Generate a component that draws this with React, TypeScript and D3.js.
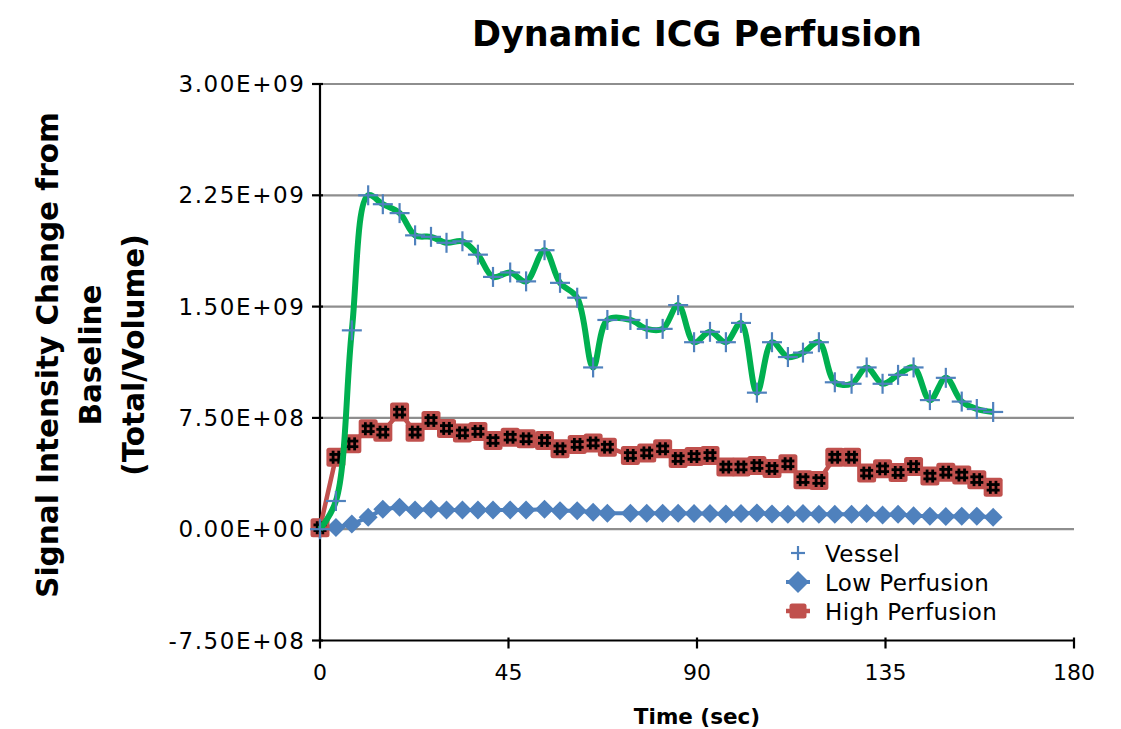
import React from "react";
import * as d3 from "d3";

const times = [
  0, 3.8, 7.6, 11.5, 15.0, 19.0, 22.7, 26.5, 30.2, 34.0, 37.7, 41.3, 45.4, 49.2,
  53.6, 57.3, 61.4, 65.2, 68.6, 74.1, 78.0, 81.8, 85.5, 89.3, 93.1, 96.9, 100.5,
  104.3, 107.9, 111.7, 115.3, 119.1, 122.9, 126.9, 130.5, 134.3, 138.0, 141.7,
  145.6, 149.4, 153.2, 156.8, 160.7,
];

// values in units of 1E9
const vessel = [
  0, 0.19, 1.34, 2.25, 2.19, 2.13, 1.98, 1.97, 1.93, 1.94, 1.85, 1.7, 1.73, 1.67,
  1.88, 1.66, 1.56, 1.09, 1.41, 1.41, 1.35, 1.35, 1.51, 1.26, 1.33, 1.26, 1.39,
  0.92, 1.26, 1.16, 1.19, 1.26, 0.99, 0.98, 1.09, 0.98, 1.04, 1.09, 0.87, 1.02,
  0.86, 0.81, 0.79,
];

const lowPerfusion = [
  0, 0.012, 0.035, 0.08, 0.135, 0.148, 0.13, 0.135, 0.13, 0.13, 0.13, 0.13, 0.13,
  0.13, 0.135, 0.125, 0.125, 0.114, 0.107, 0.107, 0.107, 0.107, 0.107, 0.105,
  0.105, 0.103, 0.105, 0.11, 0.103, 0.1, 0.105, 0.1, 0.1, 0.1, 0.105, 0.095, 0.1,
  0.09, 0.088, 0.085, 0.088, 0.088, 0.08,
];

const highPerfusion = [
  0.01, 0.485, 0.575, 0.677, 0.654, 0.789, 0.654, 0.733, 0.679, 0.649, 0.659,
  0.598, 0.62, 0.609, 0.598, 0.542, 0.571, 0.581, 0.553, 0.497, 0.514, 0.542,
  0.476, 0.49, 0.497, 0.419, 0.419, 0.429, 0.409, 0.441, 0.334, 0.328, 0.485,
  0.485, 0.378, 0.407, 0.382, 0.422, 0.358, 0.384, 0.365, 0.334, 0.282,
];

const xTicks = [0, 45, 90, 135, 180];
const yTicks = [-0.75e9, 0, 0.75e9, 1.5e9, 2.25e9, 3.0e9];
const yTickLabels = ["-7.50E+08", "0.00E+00", "7.50E+08", "1.50E+09", "2.25E+09", "3.00E+09"];
const legendLabels = ["Vessel", "Low Perfusion", "High Perfusion"];

const BLUE = "#4F81BD";
const RED = "#C0504D";
const GREEN = "#00B050";
const FONT = "DejaVu Sans";

export default function App() {
  const x = d3.scaleLinear().domain([0, 180]).range([320, 1074]);
  const y = d3.scaleLinear().domain([-0.75e9, 3.0e9]).range([640.5, 84]);

  const vPts = times.map((t, i) => [x(t), y(vessel[i] * 1e9)] as [number, number]);
  const lPts = times.map((t, i) => [x(t), y(lowPerfusion[i] * 1e9)] as [number, number]);
  const hPts = times.map((t, i) => [x(t), y(highPerfusion[i] * 1e9)] as [number, number]);

  const smooth = d3.line().curve(d3.curveCatmullRom.alpha(0.5));
  const straight = d3.line();

  const x0 = x(0), x1 = x(180);
  const yBottom = y(-0.75e9);

  const diamond = (cx: number, cy: number, r: number) =>
    `M${cx},${cy - r}L${cx + r},${cy}L${cx},${cy + r}L${cx - r},${cy}Z`;

  const hash = (cx: number, cy: number, key: string) => (
    <g key={key} stroke="#000" strokeWidth={2.8}>
      <line x1={cx - 2.8} x2={cx - 2.8} y1={cy - 6.5} y2={cy + 6.5} />
      <line x1={cx + 2.8} x2={cx + 2.8} y1={cy - 6.5} y2={cy + 6.5} />
      <line x1={cx - 6.5} x2={cx + 6.5} y1={cy - 2.8} y2={cy - 2.8} />
      <line x1={cx - 6.5} x2={cx + 6.5} y1={cy + 2.8} y2={cy + 2.8} />
    </g>
  );

  const cross = (cx: number, cy: number, r: number, key: string, sw = 2.2) => (
    <g key={key} stroke={BLUE} strokeWidth={sw}>
      <line x1={cx - r} x2={cx + r} y1={cy} y2={cy} />
      <line x1={cx} x2={cx} y1={cy - r} y2={cy + r} />
    </g>
  );

  const legendX = 798;
  const legendRows = [553, 582, 611];

  return (
    <svg
      width={1121}
      height={729}
      style={{ position: "absolute", left: 0, top: 0, background: "#fff" }}
      fontFamily={FONT}
    >
      <rect width={1121} height={729} fill="#fff" />
      {/* title */}
      <text x={697} y={46} textAnchor="middle" fontSize={35} fontWeight="bold">
        Dynamic ICG Perfusion
      </text>

      {/* gridlines */}
      {yTicks
        .filter((t) => t > -0.75e9)
        .map((t) => (
          <line key={"g" + t} x1={x0} x2={x1} y1={y(t)} y2={y(t)} stroke="#8e8e8e" strokeWidth={2.2} />
        ))}

      {/* axes */}
      <line x1={x0} x2={x0} y1={y(3e9)} y2={yBottom} stroke="#000" strokeWidth={2.2} />
      <line x1={x0} x2={x1} y1={yBottom} y2={yBottom} stroke="#000" strokeWidth={2.2} />
      {yTicks.map((t) => (
        <line key={"yt" + t} x1={x0 - 8} x2={x0 + 3} y1={y(t)} y2={y(t)} stroke="#000" strokeWidth={2.2} />
      ))}
      {xTicks.map((t) => (
        <line key={"xt" + t} x1={x(t)} x2={x(t)} y1={yBottom - 3} y2={yBottom + 8} stroke="#000" strokeWidth={2.2} />
      ))}
      {yTicks.map((t, i) => (
        <text key={"yl" + t} x={305.5} y={y(t) + 8} textAnchor="end" fontSize={23} letterSpacing={1.6}>
          {yTickLabels[i]}
        </text>
      ))}
      {xTicks.map((t) => (
        <text key={"xl" + t} x={x(t)} y={680} textAnchor="middle" fontSize={22}>
          {t}
        </text>
      ))}

      {/* axis titles */}
      <text x={697} y={724} textAnchor="middle" fontSize={21.5} fontWeight="bold">
        Time (sec)
      </text>
      {["Signal Intensity Change from", "Baseline", "(Total/Volume)"].map((s, i) => (
        <text
          key={s}
          transform={`translate(${58 + i * 43},355) rotate(-90)`}
          textAnchor="middle"
          fontSize={29.5}
          fontWeight="bold"
        >
          {s}
        </text>
      ))}

      {/* low perfusion */}
      <path d={straight(lPts) || ""} fill="none" stroke={BLUE} strokeWidth={4} />
      {lPts.map(([cx, cy], i) => (
        <path key={"d" + i} d={diamond(cx, cy, 9.5)} fill={BLUE} />
      ))}

      {/* high perfusion */}
      <path d={straight(hPts) || ""} fill="none" stroke={RED} strokeWidth={4.5} />
      {hPts.map(([cx, cy], i) => (
        <rect key={"s" + i} x={cx - 9.5} y={cy - 9.5} width={19} height={19} rx={2.5} fill={RED} />
      ))}
      {hPts.map(([cx, cy], i) => hash(cx, cy, "h" + i))}

      {/* vessel */}
      <path d={smooth(vPts) || ""} fill="none" stroke={GREEN} strokeWidth={6} strokeLinejoin="round" />
      {vPts.map(([cx, cy], i) => cross(cx, cy, 10, "c" + i))}

      {/* legend */}
      {cross(legendX, legendRows[0], 7, "lc")}
      <line x1={legendX - 12} x2={legendX + 12} y1={legendRows[1]} y2={legendRows[1]} stroke={BLUE} strokeWidth={4} />
      <path d={diamond(legendX, legendRows[1], 11)} fill={BLUE} />
      <line x1={legendX - 12} x2={legendX + 12} y1={legendRows[2]} y2={legendRows[2]} stroke={RED} strokeWidth={4.5} />
      <rect x={legendX - 8.5} y={legendRows[2] - 7.5} width={17} height={15} rx={2.5} fill={RED} />
      {legendLabels.map((s, i) => (
        <text key={s} x={825} y={legendRows[i] + 8.5} fontSize={23} letterSpacing={0.4}>
          {s}
        </text>
      ))}
    </svg>
  );
}
